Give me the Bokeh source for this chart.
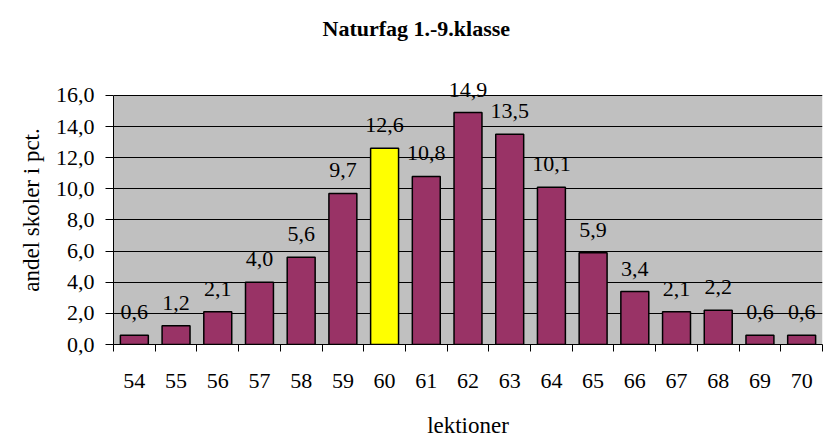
from bokeh.plotting import figure
from bokeh.models import (ColumnDataSource, FixedTicker, CustomJSTickFormatter, Range1d, Title,
                          LabelSet, BoxAnnotation)
from bokeh.embed import file_html
from bokeh.resources import INLINE

lessons = [54, 55, 56, 57, 58, 59, 60, 61, 62, 63, 64, 65, 66, 67, 68, 69, 70]
shares = [0.6, 1.2, 2.1, 4.0, 5.6, 9.7, 12.6, 10.8, 14.9, 13.5, 10.1, 5.9, 3.4, 2.1, 2.2, 0.6, 0.6]
highlight = 60
y_ticks = [0, 2, 4, 6, 8, 10, 12, 14, 16]
y_max = 16

FONT = "'Liberation Serif', serif"
PURPLE = "#993366"
YELLOW = "#FFFF00"
GRAY = "#C0C0C0"

colors = [YELLOW if l == highlight else PURPLE for l in lessons]
labels = [("%.1f" % v).replace(".", ",") for v in shares]
src = ColumnDataSource(dict(x=lessons, top=shares, color=colors, label=labels))

# extra headroom above the gray plot area so the value labels are not clipped
head = 1.28
p = figure(width=825, height=440, output_backend="svg", toolbar_location=None,
           x_range=Range1d(lessons[0] - 0.5, lessons[-1] + 0.5), y_range=Range1d(0, y_max + head),
           min_border_left=113, min_border_right=3, min_border_top=75, min_border_bottom=95)

p.title.text = "Naturfag 1.-9.klasse"
p.title.text_font = FONT
p.title.text_font_size = "22px"
p.title.text_font_style = "bold"
p.title.text_color = "black"
p.title.align = "left"
p.title.offset = 209

spacer = Title(text=" ", text_font_size="25px", standoff=0)
p.add_layout(spacer, "above")

p.background_fill_color = "white"
p.border_fill_color = "white"
p.outline_line_color = None

area = BoxAnnotation(bottom=0, top=y_max, fill_color=GRAY, fill_alpha=1.0, line_color=None,
                     level="image")
p.add_layout(area)

p.vbar(x="x", top="top", width=0.67, bottom=0, source=src, fill_color="color",
       line_color="black", line_width=1.5)
bar_labels = LabelSet(x="x", y="top", text="label", source=src, text_align="center",
                      text_baseline="alphabetic", y_offset=16, text_font=FONT,
                      text_font_size="22px", text_color="black")
p.add_layout(bar_labels)

p.xgrid.visible = False
p.ygrid.grid_line_color = "black"
p.ygrid.grid_line_width = 1
p.ygrid.ticker = FixedTicker(ticks=y_ticks)

p.yaxis.ticker = FixedTicker(ticks=y_ticks)
p.yaxis.bounds = (0, y_max)
p.yaxis.formatter = CustomJSTickFormatter(code="return tick.toFixed(1).replace('.', ',');")
p.yaxis.axis_label = "andel skoler i pct."
p.xaxis.axis_label = "lektioner"
p.xaxis.ticker = FixedTicker(ticks=lessons, minor_ticks=[l - 0.5 for l in lessons] + [lessons[-1] + 0.5])
p.xaxis.major_tick_out = 0
p.xaxis.major_tick_in = 0
p.xaxis.minor_tick_out = 7
p.xaxis.minor_tick_in = 0
p.xaxis.minor_tick_line_color = "black"
p.yaxis.major_tick_out = 8
p.yaxis.major_tick_in = 0
p.yaxis.minor_tick_line_color = None

for ax in (p.xaxis, p.yaxis):
    ax.axis_line_color = "black"
    ax.major_tick_line_color = "black"
    ax.major_label_text_font = FONT
    ax.major_label_text_font_size = "22px"
    ax.major_label_text_color = "black"
    ax.axis_label_text_font = FONT
    ax.axis_label_text_font_size = "23px"
    ax.axis_label_text_font_style = "normal"
    ax.axis_label_text_color = "black"

p.xaxis.major_label_standoff = 22
p.xaxis.axis_label_standoff = 22
p.yaxis.major_label_standoff = 11
p.yaxis.axis_label_standoff = 9

open("out.html", "w").write(file_html(p, INLINE))
